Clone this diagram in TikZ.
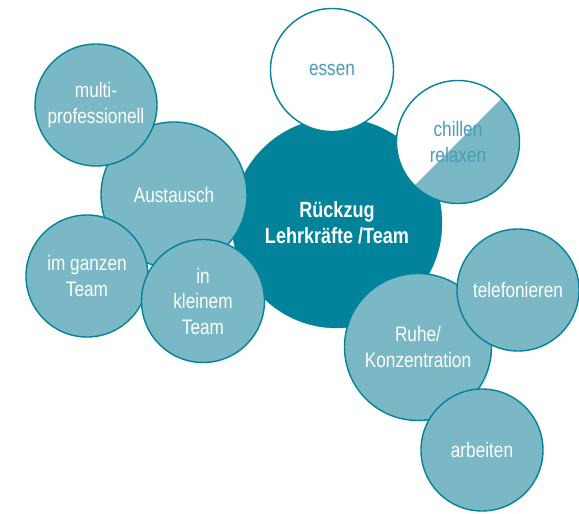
\documentclass[tikz,border=0pt]{standalone}
\usepackage{fontspec}
\setmainfont{Liberation Sans}[FakeStretch=0.82]
\definecolor{dark}{HTML}{00839B}
\definecolor{light}{HTML}{7AB8C6}
\definecolor{tealtext}{HTML}{4A9DB2}
\tikzset{
  bub/.style={circle, draw=dark, line width=1.4pt, fill=light, text=white,
    inner sep=0pt, align=center, font=\fontsize{21}{25.5}\selectfont, minimum size=#1},
  whitebub/.style={bub=#1, fill=white, text=tealtext},
  core/.style={circle, draw=dark, fill=dark, text=white, inner sep=0pt, align=center,
    font=\fontsize{22}{26}\selectfont\bfseries, minimum size=#1}
}
\begin{document}
\begin{tikzpicture}[x=1pt,y=-1pt]
\useasboundingbox (0,0) rectangle (579,514);
\node[core=210pt] (center) at (337,223) {Rückzug\\Lehrkräfte /Team};
\node[whitebub=123pt] (essen) at (332,70) {\raisebox{-3pt}{essen}};
\node[whitebub=123pt, path picture={\fill[light] (path picture bounding box.south east) -- (path picture bounding box.north east) -- (path picture bounding box.south west) -- cycle;}] (chill) at (458,142) {chillen\\relaxen};
\node[bub=146pt] (aus) at (174,195) {Austausch};
\node[bub=122pt] (multi) at (96,105) {multi-\\professionell};
\node[bub=122pt] (ganz) at (87,276) {im ganzen\\Team};
\node[bub=123pt] (klein) at (203,301) {in\\kleinem\\Team};
\node[bub=147pt] (ruhe) at (418,347) {Ruhe/\\Konzentration};
\node[bub=122pt] (tel) at (518,290) {telefonieren};
\node[bub=122pt] (arb) at (482,450) {arbeiten};
\end{tikzpicture}
\end{document}
